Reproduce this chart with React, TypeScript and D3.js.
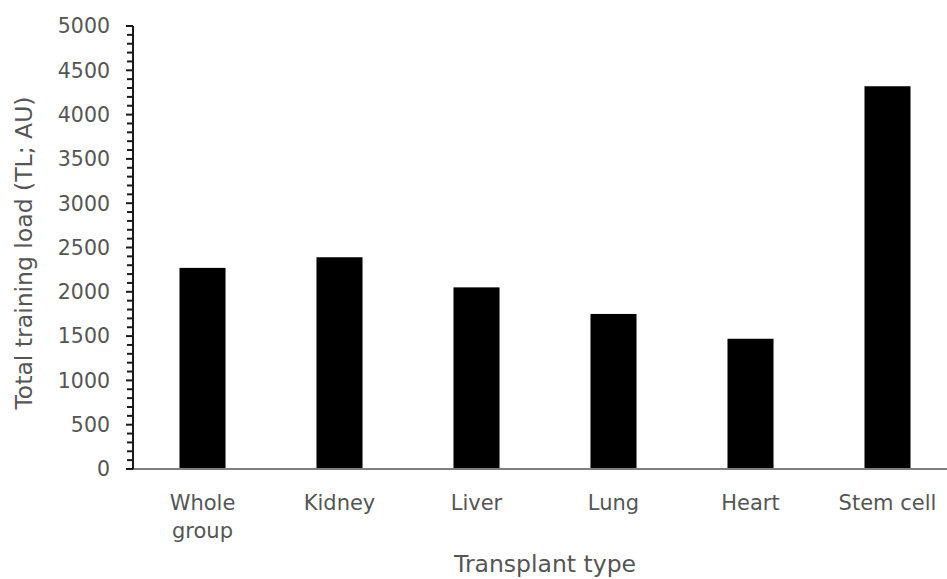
import React from "react";
import * as d3 from "d3";

const categories: string[][] = [["Whole", "group"], ["Kidney"], ["Liver"], ["Lung"], ["Heart"], ["Stem cell"]];
const values: number[] = [2270, 2390, 2050, 1750, 1470, 4320];
const majorTicks: number[] = [0, 500, 1000, 1500, 2000, 2500, 3000, 3500, 4000, 4500, 5000];
const xTitle = "Transplant type";
const yTitle = "Total training load (TL; AU)";

const W = 947;
const H = 579;
const FONT = "'DejaVu Sans', 'Noto Sans', sans-serif";
const TEXT = "#555555";

export default function App() {
  const keys = categories.map((c) => c.join(" "));
  const x = d3.scaleBand<string>().domain(keys).range([134, 956]).paddingInner(0.664).paddingOuter(0.332);
  const y = d3.scaleLinear().domain([0, 5000]).range([469, 26]);
  const minorTicks = d3.range(0, 5001, 100).filter((v) => v % 500 !== 0);
  const axisX = 133;

  return (
    <svg width={W} height={H} style={{ position: "absolute", left: 0, top: 0, background: "#fff" }} fontFamily={FONT}>
      <rect x={0} y={0} width={W} height={H} fill="#fff" />
      {values.map((v, i) => (
        <rect key={i} x={x(keys[i])} y={y(v)} width={x.bandwidth()} height={y(0) - y(v)} fill="#000" />
      ))}
      {/* x axis */}
      <line x1={axisX} x2={W} y1={y(0)} y2={y(0)} stroke="#7f7f7f" strokeWidth={2} />
      {/* y axis */}
      <line x1={axisX} x2={axisX} y1={y(5000)} y2={y(0)} stroke="#1a1a1a" strokeWidth={2} />
      {majorTicks.map((t) => (
        <g key={t}>
          <line x1={axisX - 7} x2={axisX} y1={y(t)} y2={y(t)} stroke="#1a1a1a" strokeWidth={2} />
          <text x={110} y={y(t)} dy="0.36em" textAnchor="end" fontSize={20.5} fill={TEXT}>
            {t}
          </text>
        </g>
      ))}
      {minorTicks.map((t) => (
        <line key={t} x1={axisX - 6} x2={axisX} y1={y(t)} y2={y(t)} stroke="#1a1a1a" strokeWidth={2} />
      ))}
      {categories.map((lines, i) => (
        <text key={i} x={(x(keys[i]) as number) + x.bandwidth() / 2} y={510} textAnchor="middle" fontSize={21} fill={TEXT}>
          {lines.map((l, j) => (
            <tspan key={j} x={(x(keys[i]) as number) + x.bandwidth() / 2} dy={j === 0 ? 0 : 28}>
              {l}
            </tspan>
          ))}
        </text>
      ))}
      <text x={545} y={572} textAnchor="middle" fontSize={23.5} fill={TEXT}>
        {xTitle}
      </text>
      <text transform={`translate(32,253) rotate(-90)`} textAnchor="middle" fontSize={23.5} fill={TEXT}>
        {yTitle}
      </text>
    </svg>
  );
}
